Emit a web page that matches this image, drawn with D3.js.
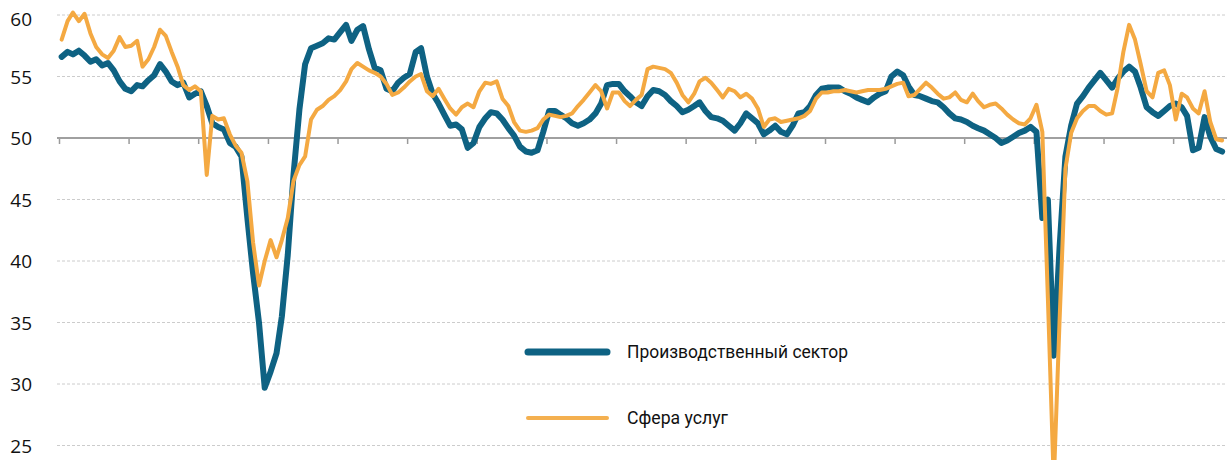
<!DOCTYPE html>
<html><head><meta charset="utf-8">
<script src="https://cdn.jsdelivr.net/npm/d3@7"></script>
<style>
html,body{margin:0;padding:0;background:#fff;}
svg{display:block;}
</style></head>
<body>
<svg id="chart" width="1227" height="460"></svg>
<script>
// Monthly PMI values, Jan 2006 onward
const startYear = 2006;
const manufacturing = [
56.6,57.0,56.8,57.1,56.7,56.2,56.4,55.9,56.1,55.5,54.6,54.0,
53.8,54.3,54.2,54.7,55.1,56.0,55.4,54.6,54.3,54.5,53.3,53.6,
53.8,52.6,51.2,50.9,50.7,49.6,49.3,48.5,43.5,39.0,35.0,29.7,
31.0,32.5,35.5,40.5,47.0,52.3,56.0,57.3,57.5,57.7,58.1,58.0,
58.6,59.2,57.9,58.8,59.1,57.2,55.7,55.5,54.0,53.8,54.5,54.9,
55.2,57.0,57.3,55.0,53.6,52.8,51.9,51.0,51.1,50.7,49.2,49.6,
50.9,51.6,52.1,52.0,51.5,50.8,50.2,49.3,48.9,48.8,49.0,50.5,
52.2,52.2,51.9,51.6,51.2,51.0,51.2,51.5,52.0,52.8,54.3,54.4,
54.4,53.8,53.4,52.9,52.6,53.4,53.9,53.8,53.5,53.0,52.6,52.1,
52.3,52.6,52.9,52.2,51.7,51.6,51.4,51.0,50.6,51.2,52.0,51.6,
51.2,50.3,50.6,51.0,50.5,50.3,51.0,52.0,52.1,52.6,53.5,54.0,
54.1,54.1,54.1,53.8,53.6,53.3,53.1,52.9,53.3,53.6,53.8,55.0,
55.4,55.1,54.2,53.5,53.4,53.2,53.0,52.9,52.5,52.0,51.6,51.5,
51.3,51.0,50.8,50.6,50.3,50.0,49.6,49.8,50.1,50.4,50.6,50.9,
50.5,43.5,45.0,32.3,41.0,48.5,51.0,52.8,53.4,54.1,54.7,55.3,
54.7,54.1,54.8,55.4,55.8,55.4,54.1,52.5,52.1,51.8,52.2,52.6,
52.8,52.5,51.8,49.0,49.2,51.7,50.1,49.1,48.9
];
const services = [
58.0,59.5,60.2,59.5,60.1,58.5,57.4,56.8,56.5,57.1,58.2,57.4,
57.5,57.9,55.8,56.4,57.4,58.8,58.3,57.0,55.8,54.3,53.9,54.2,
53.8,47.0,51.8,51.5,51.6,50.3,49.4,48.8,46.5,41.5,38.0,40.0,
41.7,40.3,41.7,43.5,46.5,47.8,48.5,51.5,52.3,52.6,53.1,53.4,
53.9,54.6,55.6,56.1,55.8,55.5,55.3,55.0,54.4,53.5,53.7,54.1,
54.6,55.0,55.2,53.8,53.4,54.0,53.2,52.4,51.9,52.5,52.8,52.5,
53.8,54.5,54.4,54.6,53.2,52.6,51.3,50.6,50.5,50.6,50.8,51.5,
51.9,51.8,51.7,51.8,52.0,52.6,53.1,53.7,54.3,53.8,52.4,53.7,
53.7,53.0,52.6,53.1,53.5,55.6,55.8,55.7,55.6,55.3,54.5,53.5,
52.9,53.6,54.6,54.9,54.5,53.9,53.3,54.0,53.8,53.3,53.6,53.2,
52.4,50.9,51.5,51.6,51.3,51.4,51.5,51.6,51.8,52.2,53.2,53.7,
53.7,53.8,53.8,53.9,53.8,53.7,53.8,53.9,53.9,53.9,54.0,54.2,
54.4,54.5,53.4,53.5,54.0,54.5,54.1,53.6,53.2,53.3,53.7,53.1,
52.9,53.6,53.0,52.5,52.7,52.8,52.4,51.9,51.5,51.2,51.1,51.6,
52.7,50.5,37.0,22.0,35.0,47.5,50.4,51.6,52.2,52.6,52.6,52.2,
51.9,52.0,54.0,57.0,59.2,58.0,56.0,53.8,53.3,55.3,55.5,54.3,
51.5,53.6,53.3,52.4,52.0,53.8,51.3,49.9,49.8
];
const yTicks = [25,30,35,40,45,50,55,60];
const seriesNames = ["Производственный сектор","Сфера услуг"];

const W = 1227, H = 460;
const svg = d3.select("#chart");
const dateOf = i => new Date(startYear, i, 15);

const x = d3.scaleTime()
  .domain([new Date(startYear,0,1), new Date(startYear+17,0,1)])
  .range([59, 59 + 17*69.63]);
const y = d3.scaleLinear().domain([25,60]).range([445.5,15]);

const plotLeft = 57, plotRight = W;

// y axis with dashed gridlines
const yAxis = d3.axisLeft(y).tickValues(yTicks).tickSize(0).tickPadding(25).tickFormat(d3.format("d"));
const gy = svg.append("g").attr("transform",`translate(${plotLeft},0)`).call(yAxis);
gy.select(".domain").remove();
gy.selectAll("text")
  .attr("fill","#111")
  .attr("font-family","'Open Sans', sans-serif")
  .attr("font-size","19px")
  .attr("dy", d => d===60 ? "0.55em" : "0.36em");

svg.append("g").selectAll("line")
  .data(yTicks.filter(d=>d!==50))
  .join("line")
  .attr("x1",plotLeft).attr("x2",plotRight)
  .attr("y1",d=>y(d)).attr("y2",d=>y(d))
  .attr("stroke","#cccccc").attr("stroke-width",1)
  .attr("stroke-dasharray","3,2");

// x axis at 50 with yearly ticks
const xAxis = d3.axisBottom(x).ticks(d3.timeYear.every(1)).tickSize(6).tickFormat("");
const gx = svg.append("g").attr("transform",`translate(0,${y(50)})`).call(xAxis);
gx.select(".domain").remove();
gx.selectAll(".tick line").attr("stroke","#9a9a9a").attr("stroke-width",1.5);
svg.append("line")
  .attr("x1",plotLeft).attr("x2",plotRight)
  .attr("y1",y(50)).attr("y2",y(50))
  .attr("stroke","#a0a0a0").attr("stroke-width",2);

const line = d3.line().x((d,i)=>x(dateOf(i))).y(d=>y(d)).curve(d3.curveLinear);

svg.append("path").datum(manufacturing)
  .attr("d",line).attr("fill","none")
  .attr("stroke","#0e6283").attr("stroke-width",6)
  .attr("stroke-linejoin","round").attr("stroke-linecap","round");
svg.append("path").datum(services)
  .attr("d",line).attr("fill","none")
  .attr("stroke","#f4a942").attr("stroke-width",4)
  .attr("stroke-linejoin","round").attr("stroke-linecap","round");

// legend
const legend = [
  {name:seriesNames[0], color:"#0e6283", w:7, y:352, len:221},
  {name:seriesNames[1], color:"#f4b050", w:4, y:418, len:101}
];
const lg = svg.append("g");
lg.selectAll("line").data(legend).join("line")
  .attr("x1",528).attr("x2",607)
  .attr("y1",d=>d.y).attr("y2",d=>d.y)
  .attr("stroke",d=>d.color).attr("stroke-width",d=>d.w)
  .attr("stroke-linecap","round");
lg.selectAll("text").data(legend).join("text")
  .attr("x",627).attr("y",d=>d.y+6)
  .attr("font-family","Roboto, sans-serif")
  .attr("font-size","18px")
  .attr("fill","#111")
  .attr("textLength",d=>d.len)
  .attr("lengthAdjust","spacingAndGlyphs")
  .text(d=>d.name);
</script>
</body></html>
